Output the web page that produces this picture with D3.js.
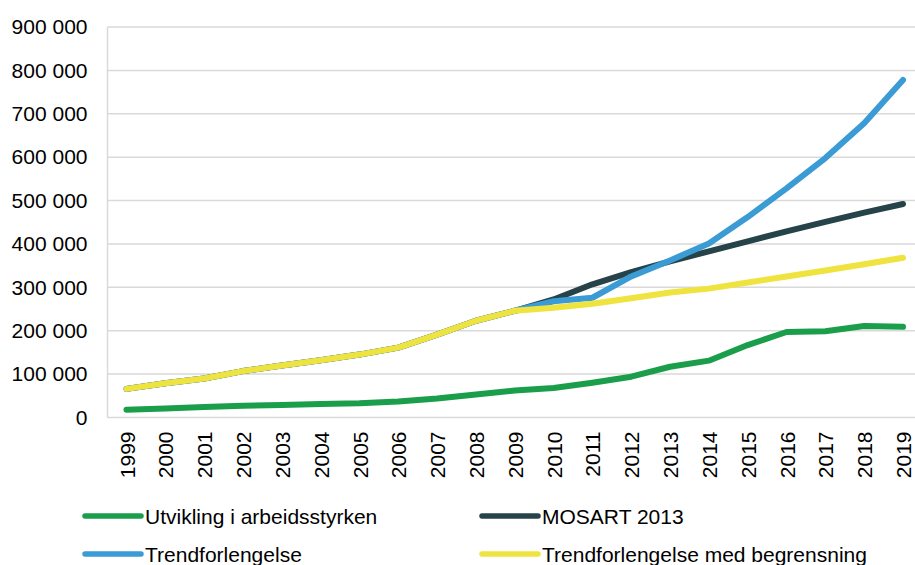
<!DOCTYPE html>
<html>
<head>
<meta charset="utf-8">
<script src="https://cdn.jsdelivr.net/npm/d3@7"></script>
<style>
  body { margin: 0; background: #fff; }
  #chart { width: 915px; height: 565px; }
  text { font-family: "Liberation Sans", Arial, sans-serif; fill: #000; }
</style>
</head>
<body>
<div id="chart"></div>
<script>
const years = d3.range(1999, 2020).map(String);
const yTicks = [0, 100000, 200000, 300000, 400000, 500000, 600000, 700000, 800000, 900000];

const utvikling = [18000, 21000, 24000, 27000, 29000, 31000, 33000, 37000, 44000, 53000, 62000, 68000, 80000, 94000, 117000, 131000, 167000, 197000, 199000, 211000, 209000];
const mosart = [66000, 79000, 90000, 107000, 120000, 132000, 145000, 161000, 191000, 223000, 246000, 272000, 307000, 335000, 360000, 383000, 406000, 429000, 451000, 472000, 492000];
const trend = [66000, 79000, 90000, 107000, 120000, 132000, 145000, 161000, 191000, 223000, 246000, 268000, 276000, 325000, 362000, 401000, 462000, 528000, 598000, 678000, 778000];
const trendBegr = [66000, 79000, 90000, 107000, 120000, 132000, 145000, 161000, 191000, 223000, 246000, 253000, 262000, 275000, 288000, 297000, 311000, 325000, 339000, 353000, 368000];

const series = [
  { label: "Utvikling i arbeidsstyrken", color: "#1b9e4b", values: utvikling },
  { label: "MOSART 2013", color: "#254349", values: mosart },
  { label: "Trendforlengelse", color: "#3a9bd5", values: trend },
  { label: "Trendforlengelse med begrensning", color: "#efe340", values: trendBegr },
];

const width = 915;
const height = 565;
const margin = { left: 107.5, right: 0, top: 27, bottom: 147.5 };

const svg = d3.select("#chart").append("svg")
  .attr("width", width)
  .attr("height", height);

const xScale = d3.scalePoint().domain(years).range([126.5, 903]);
const yScale = d3.scaleLinear().domain([0, 900000]).range([height - margin.bottom, margin.top]);

// gridlines
svg.append("g")
  .selectAll("line")
  .data(yTicks.slice(1))
  .join("line")
  .attr("x1", margin.left)
  .attr("x2", width)
  .attr("y1", (d) => yScale(d))
  .attr("y2", (d) => yScale(d))
  .attr("stroke", "#d9d9d9")
  .attr("stroke-width", 1.5);

// axis lines
svg.append("line")
  .attr("x1", margin.left).attr("x2", margin.left)
  .attr("y1", margin.top).attr("y2", yScale(0))
  .attr("stroke", "#d9d9d9").attr("stroke-width", 1.5);
svg.append("line")
  .attr("x1", margin.left).attr("x2", width)
  .attr("y1", yScale(0)).attr("y2", yScale(0))
  .attr("stroke", "#d9d9d9").attr("stroke-width", 1.5);

const fmt = (d) => d3.format(",")(d).replace(/,/g, " ");

const yAxis = svg.append("g")
  .attr("transform", `translate(${margin.left}, 0)`)
  .call(d3.axisLeft(yScale).tickValues(yTicks).tickFormat(fmt).tickSize(0).tickPadding(20));
yAxis.select(".domain").remove();
yAxis.selectAll("text").attr("font-size", 21).attr("font-family", "Liberation Sans, Arial, sans-serif").attr("fill", "#000");

const xAxis = svg.append("g")
  .attr("transform", `translate(0, ${yScale(0)})`)
  .call(d3.axisBottom(xScale).tickSize(0));
xAxis.select(".domain").remove();
xAxis.selectAll("text")
  .attr("font-size", 21)
  .attr("font-family", "Liberation Sans, Arial, sans-serif")
  .attr("fill", "#000")
  .attr("transform", "rotate(-90)")
  .attr("text-anchor", "end")
  .attr("x", -14)
  .attr("y", 0)
  .attr("dy", "0.36em");

const line = d3.line()
  .x((d, i) => xScale(years[i]))
  .y((d) => yScale(d));

svg.append("g")
  .selectAll("path")
  .data(series)
  .join("path")
  .attr("fill", "none")
  .attr("stroke", (d) => d.color)
  .attr("stroke-width", 6)
  .attr("stroke-linecap", "round")
  .attr("stroke-linejoin", "round")
  .attr("d", (d) => line(d.values));

// legend
const legendPos = [
  { x: 85, y: 516 },
  { x: 482, y: 516 },
  { x: 85, y: 554 },
  { x: 482, y: 554 },
];
const legend = svg.append("g")
  .selectAll("g")
  .data(series)
  .join("g")
  .attr("transform", (d, i) => `translate(${legendPos[i].x}, ${legendPos[i].y})`);
legend.append("line")
  .attr("x1", 0).attr("x2", 56)
  .attr("stroke", (d) => d.color)
  .attr("stroke-width", 5.5)
  .attr("stroke-linecap", "round");
legend.append("text")
  .attr("x", 60)
  .attr("dy", "0.36em")
  .attr("font-size", 21)
  .text((d) => d.label);
</script>
</body>
</html>
